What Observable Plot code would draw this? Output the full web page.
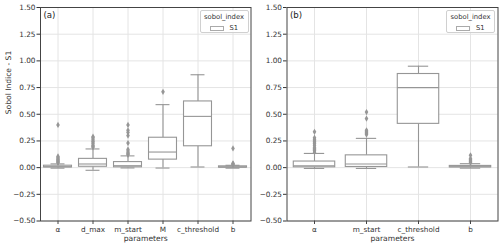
<!DOCTYPE html>
<html><head><meta charset="utf-8">
<script src="https://cdn.jsdelivr.net/npm/d3@7"></script>
<script src="https://cdn.jsdelivr.net/npm/@observablehq/plot@0.6"></script>
<style>
body{margin:0;background:#fff;font-family:"DejaVu Sans",sans-serif;}
#wrap{position:relative;width:500px;height:247px;overflow:hidden;}
#wrap svg{position:absolute;top:0;overflow:visible;}
.legend{position:absolute;top:10px;width:47px;height:21px;border:1px solid #d0d0d0;border-radius:2px;background:rgba(255,255,255,0.85);font-size:6.8px;color:#333;}
.legend .t{position:absolute;top:2px;left:0;width:100%;text-align:center;}
.legend .sw{position:absolute;top:15px;left:9px;width:12px;height:3px;border:1px solid #aaa;background:#fff;}
.legend .l{position:absolute;top:12.5px;left:29px;}
</style></head>
<body><div id="wrap"></div>
<script>
// ---- Panel (a) ----
const paramsA = ["α", "d_max", "m_start", "M", "c_threshold", "b"];
const loA  = [-0.005, -0.025, -0.003, -0.004, 0.006, -0.005];
const q1A  = [0.002, 0.008, 0.003, 0.075, 0.20, 0.000];
const medA = [0.008, 0.034, 0.018, 0.146, 0.48, 0.005];
const q3A  = [0.018, 0.082, 0.052, 0.28, 0.62, 0.012];
const hiA  = [0.035, 0.175, 0.11, 0.59, 0.87, 0.022];
const fliersA = [
  [0.045, 0.052, 0.06, 0.068, 0.075, 0.085, 0.095, 0.105, 0.40],
  [0.19, 0.20, 0.21, 0.225, 0.24, 0.25, 0.265, 0.28, 0.29],
  [0.12, 0.13, 0.14, 0.155, 0.17, 0.23, 0.30, 0.33, 0.35, 0.40],
  [0.71],
  [],
  [0.03, 0.035, 0.04, 0.18]
];
// ---- Panel (b) ----
const paramsB = ["α", "m_start", "c_threshold", "b"];
const loB  = [-0.008, -0.008, 0.006, -0.005];
const q1B  = [0.003, 0.006, 0.41, 0.002];
const medB = [0.018, 0.034, 0.749, 0.008];
const q3B  = [0.057, 0.115, 0.877, 0.016];
const hiB  = [0.133, 0.274, 0.95, 0.037];
const fliersB = [
  [0.145, 0.16, 0.17, 0.18, 0.19, 0.21, 0.225, 0.24, 0.25, 0.265, 0.28, 0.335],
  [0.31, 0.32, 0.33, 0.34, 0.35, 0.46, 0.52],
  [],
  [0.045, 0.055, 0.065, 0.075, 0.085, 0.115]
];
const yTicks = [-0.5, -0.25, 0, 0.25, 0.5, 0.75, 1.0, 1.25, 1.5];
const xLabel = "parameters";
const yLabel = "Sobol Indice - S1";
const legendTitle = "sobol_index";
const legendItem = "S1";

const boxColor = "#969696";
const gridColor = "#e4e4e4";

function panel(params, lo, q1, med, q3, hi, fliers, tag, o) {
  const stats = params.map((p, i) => ({p, lo: lo[i], q1: q1[i], med: med[i], q3: q3[i], hi: hi[i]}));
  const fl = params.flatMap((p, i) => fliers[i].map(v => ({p, v})));
  const bw = (o.width - o.marginLeft - o.marginRight) / params.length;
  const inBox = bw * 0.1, inCap = bw * 0.3;
  const marks = [
    Plot.gridY(yTicks, {stroke: gridColor, strokeOpacity: 1}),
    Plot.gridX({stroke: gridColor, strokeOpacity: 1}),
    Plot.ruleX(stats, {x: "p", y1: "q3", y2: "hi", stroke: boxColor, strokeWidth: 1.1}),
    Plot.ruleX(stats, {x: "p", y1: "lo", y2: "q1", stroke: boxColor, strokeWidth: 1.1}),
    Plot.barY(stats, {x: "p", y1: "q1", y2: "q3", fill: "white", stroke: boxColor, strokeWidth: 1.1, insetLeft: inBox, insetRight: inBox}),
    Plot.tickY(stats, {x: "p", y: "med", stroke: boxColor, strokeWidth: 1.1, insetLeft: inBox, insetRight: inBox}),
    Plot.tickY(stats, {x: "p", y: "hi", stroke: boxColor, strokeWidth: 1.1, insetLeft: inCap, insetRight: inCap}),
    Plot.tickY(stats, {x: "p", y: "lo", stroke: boxColor, strokeWidth: 1.1, insetLeft: inCap, insetRight: inCap}),
    Plot.dot(fl, {x: "p", y: "v", symbol: "diamond", r: 1.9, fill: boxColor, stroke: "none"}),
    Plot.frame({stroke: "#444", strokeWidth: 1}),
    Plot.axisX({tickSize: 3.5, tickPadding: 2, label: null, fontSize: 7.3, stroke: "#444"}),
    Plot.axisY({ticks: yTicks, tickFormat: d3.format(".2f"), tickSize: 3.5, tickPadding: 1.5, label: null, fontSize: 7.3}),
    Plot.text([xLabel], {frameAnchor: "bottom", dy: 18, lineAnchor: "middle", fontSize: 7.6, fill: "#333"}),
    Plot.text([tag], {frameAnchor: "top-left", dx: 3, dy: 4, lineAnchor: "top", textAnchor: "start", fontSize: 8.6, fill: "#222"})
  ];
  if (o.yLabel) marks.push(Plot.text([o.yLabel], {frameAnchor: "left", dx: -32, rotate: -90, fontSize: 7.6, fill: "#333"}));
  return Plot.plot({
    width: o.width, height: 247,
    marginLeft: o.marginLeft, marginRight: o.marginRight, marginTop: 7, marginBottom: 26.5,
    style: {fontFamily: "DejaVu Sans", fontSize: "7.3px", color: "#333", background: "transparent", overflow: "visible"},
    x: {type: "band", domain: params, padding: 0},
    y: {domain: [-0.5, 1.5]},
    marks
  });
}

const wrap = document.getElementById("wrap");
const a = panel(paramsA, loA, q1A, medA, q3A, hiA, fliersA, "(a)", {width: 252, marginLeft: 40, marginRight: 1.5, yLabel});
a.style.left = "0px";
wrap.appendChild(a);
const b = panel(paramsB, loB, q1B, medB, q3B, hiB, fliersB, "(b)", {width: 248, marginLeft: 36.5, marginRight: 0.5});
b.style.left = "250px";
wrap.appendChild(b);

function legend(left) {
  const d = document.createElement("div");
  d.className = "legend";
  d.style.left = left + "px";
  d.innerHTML = `<div class="t">${legendTitle}</div><div class="sw"></div><div class="l">${legendItem}</div>`;
  wrap.appendChild(d);
}
legend(199.5);
legend(446);
</script>
</body></html>
